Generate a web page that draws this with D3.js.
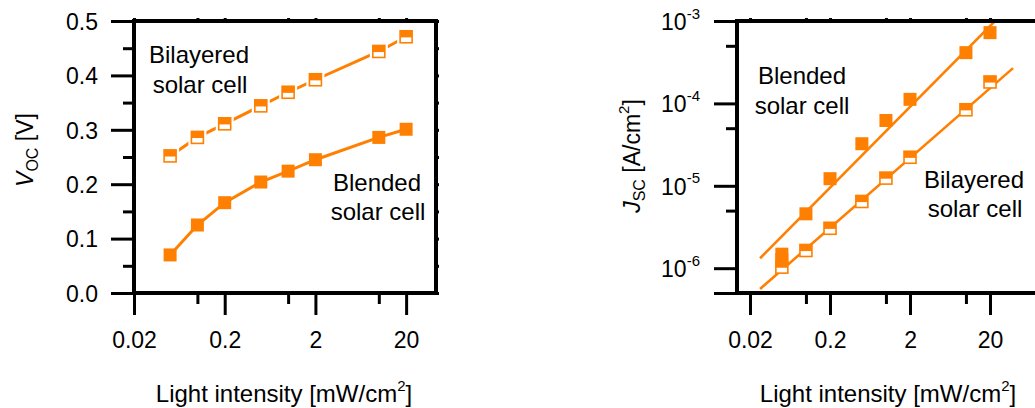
<!DOCTYPE html>
<html lang="en">
<head>
<meta charset="UTF-8">
<title>Voc and Jsc vs light intensity</title>
<style>
    body { margin: 0; background: #fff; }
    svg { display: block; font-family: "Liberation Sans", Arial, sans-serif; }
    .tick text { font-size: 23px; fill: #000; }
    .note { font-size: 24px; fill: #000; }
</style>
</head>
<body>
<svg width="1035" height="408"></svg>
<script src="https://d3js.org/d3.v7.min.js"></script>
<script>
    // data
    const intensity = [0.05, 0.1, 0.2, 0.5, 1, 2, 10, 20];
    const vocBilayered = [0.252, 0.286, 0.311, 0.344, 0.369, 0.392, 0.444, 0.471];
    const vocBlended = [0.070, 0.125, 0.166, 0.204, 0.224, 0.245, 0.286, 0.301];

    const intensityBlendedJsc = [0.05, 0.05, 0.1, 0.2, 0.5, 1, 2, 10, 20];
    const jscBlended = [1.48e-6, 1.27e-6, 4.57e-6, 1.22e-5, 3.24e-5, 6.2e-5, 1.12e-4, 4.13e-4, 7.22e-4];
    const jscBilayered = [1.03e-6, 1.64e-6, 3.05e-6, 6.45e-6, 1.24e-5, 2.22e-5, 8.37e-5, 1.82e-4];

    // power-law fit lines (end points)
    const fitIntensityBlended = [0.0267, 25];
    const fitJscBlended = [1.32e-6, 1.08e-3];
    const fitIntensityBilayered = [0.0267, 38.8];
    const fitJscBilayered = [5.6e-7, 2.68e-4];

    const xMajor = [0.02, 0.2, 2, 20];
    const xMinor = [0.1, 1, 10];
    const xLabels = ["0.02", "0.2", "2", "20"];
    const vocMajor = [0, 0.1, 0.2, 0.3, 0.4, 0.5];
    const vocMinor = [0.05, 0.15, 0.25, 0.35, 0.45];
    const vocLabels = ["0.0", "0.1", "0.2", "0.3", "0.4", "0.5"];
    const jscMajor = [5e-7, 1e-6, 1e-5, 1e-4, 1e-3];
    const jscMinor = [5e-6, 5e-5, 5e-4];
    const jscExponents = ["", "-6", "-5", "-4", "-3"];

    const orange = "#ff8000";
    const svg = d3.select("svg");
    const plotH = 272;

    function frame(g, w) {
        g.append("rect")
            .attr("width", w).attr("height", plotH)
            .attr("fill", "none").attr("stroke", "#000").attr("stroke-width", 4);
    }

    function styleAxis(a) {
        a.select(".domain").remove();
        a.selectAll("line").attr("stroke", "#000").attr("stroke-width", 3);
    }

    function xAxes(g, x, w) {
        const all = xMajor.concat(xMinor);
        g.append("g").attr("transform", `translate(0,${plotH})`)
            .call(d3.axisBottom(x).tickValues(xMajor).tickSize(22)
                .tickFormat((d, i) => xLabels[i]))
            .call(styleAxis)
            .call(a => a.selectAll("text").attr("y", 55).attr("dy", null));
        g.append("g").attr("transform", `translate(0,${plotH})`)
            .call(d3.axisBottom(x).tickValues(xMinor).tickSize(11).tickFormat(""))
            .call(styleAxis);
        g.append("g")
            .call(d3.axisTop(x).tickValues(all).tickSize(3).tickFormat(""))
            .call(styleAxis);
    }

    function halfSquare(sel, x, y, halo) {
        const s = 12;
        if (halo) {
            sel.append("rect").attr("x", x - s / 2 - 3).attr("y", y - s / 2 - 3)
                .attr("width", s + 6).attr("height", s + 6).attr("fill", "#fff");
        }
        sel.append("rect").attr("x", x - s / 2).attr("y", y - s / 2)
            .attr("width", s).attr("height", s)
            .attr("fill", "#fff").attr("stroke", orange).attr("stroke-width", 1.6);
        sel.append("rect").attr("x", x - s / 2).attr("y", y - s / 2)
            .attr("width", s).attr("height", s * 0.55)
            .attr("fill", orange);
    }

    function fullSquare(sel, x, y) {
        const s = 13;
        sel.append("rect").attr("x", x - s / 2).attr("y", y - s / 2)
            .attr("width", s).attr("height", s).attr("fill", orange);
    }

    // ---------- left panel: Voc ----------
    const wL = 302;
    const gL = svg.append("g").attr("transform", "translate(134,21)");
    const xL = d3.scaleLog().domain([0.02, 42.7]).range([0, wL]);
    const yL = d3.scaleLinear().domain([0, 0.5]).range([plotH, 0]);

    gL.append("g")
        .call(d3.axisLeft(yL).tickValues(vocMajor).tickSize(23)
            .tickFormat((d, i) => vocLabels[i]))
        .call(styleAxis)
        .call(a => a.selectAll("text").attr("x", -36).attr("dy", "0.36em"));
    gL.append("g")
        .call(d3.axisLeft(yL).tickValues(vocMinor).tickSize(11).tickFormat(""))
        .call(styleAxis);
    gL.append("g").attr("transform", `translate(${wL},0)`)
        .call(d3.axisRight(yL).tickValues(vocMajor.concat(vocMinor)).tickSize(3).tickFormat(""))
        .call(styleAxis);
    xAxes(gL, xL, wL);

    const lineL = d3.line().x(d => xL(d[0])).y(d => yL(d[1]));
    gL.append("path").datum(d3.zip(intensity, vocBilayered))
        .attr("d", lineL).attr("fill", "none").attr("stroke", orange).attr("stroke-width", 3);
    gL.append("path").datum(d3.zip(intensity, vocBlended))
        .attr("d", lineL).attr("fill", "none").attr("stroke", orange).attr("stroke-width", 3);

    const mL = gL.append("g");
    intensity.forEach((v, i) => halfSquare(mL, xL(v), yL(vocBilayered[i]), true));
    intensity.forEach((v, i) => fullSquare(mL, xL(v), yL(vocBlended[i])));
    frame(gL, wL);

    gL.append("text").attr("class", "note").attr("text-anchor", "middle")
        .attr("x", 65).attr("y", 42).text("Bilayered");
    gL.append("text").attr("class", "note").attr("text-anchor", "middle")
        .attr("x", 66).attr("y", 72).text("solar cell");
    gL.append("text").attr("class", "note").attr("text-anchor", "middle")
        .attr("x", 243).attr("y", 170).text("Blended");
    gL.append("text").attr("class", "note").attr("text-anchor", "middle")
        .attr("x", 244).attr("y", 199).text("solar cell");

    // y title
    const tL = svg.append("text").attr("transform", "translate(33,150) rotate(-90)")
        .attr("text-anchor", "middle").attr("font-size", 23);
    tL.append("tspan").attr("font-style", "italic").text("V");
    tL.append("tspan").attr("font-size", 16).attr("dy", 5).text("OC");
    tL.append("tspan").attr("dy", -5).text(" [V]");

    // x title
    const xtL = svg.append("text").attr("x", 284).attr("y", 402)
        .attr("text-anchor", "middle").attr("font-size", 24);
    xtL.append("tspan").text("Light intensity [mW/cm");
    xtL.append("tspan").attr("font-size", 15).attr("dy", -11).text("2");
    xtL.append("tspan").attr("dy", 11).text("]");

    // ---------- right panel: Jsc ----------
    const wR = 300;
    const gR = svg.append("g").attr("transform", "translate(737,21)");
    const xR = d3.scaleLog().domain([0.01375, 77.3]).range([0, wR]);
    const yR = d3.scaleLog().domain([5e-7, 1e-3]).range([plotH, 0]);

    gR.append("g")
        .call(d3.axisLeft(yR).tickValues(jscMajor).tickSize(23).tickFormat(""))
        .call(styleAxis)
        .call(a => a.selectAll(".tick").each(function(d, i) {
            if (!jscExponents[i]) return;
            const t = d3.select(this).append("text")
                .attr("x", -37).attr("dy", "0.36em").attr("text-anchor", "end");
            t.append("tspan").text("10");
            t.append("tspan").attr("font-size", 15).attr("dy", "-0.75em").text(jscExponents[i]);
        }));
    gR.append("g")
        .call(d3.axisLeft(yR).tickValues(jscMinor).tickSize(11).tickFormat(""))
        .call(styleAxis);
    xAxes(gR, xR, wR);

    gR.append("clipPath").attr("id", "clipR")
        .append("rect").attr("width", wR).attr("height", plotH);
    const lineR = d3.line().x(d => xR(d[0])).y(d => yR(d[1]));
    const fits = gR.append("g").attr("clip-path", "url(#clipR)");
    fits.append("path").datum(d3.zip(fitIntensityBlended, fitJscBlended))
        .attr("d", lineR).attr("fill", "none").attr("stroke", orange).attr("stroke-width", 2.6);
    fits.append("path").datum(d3.zip(fitIntensityBilayered, fitJscBilayered))
        .attr("d", lineR).attr("fill", "none").attr("stroke", orange).attr("stroke-width", 2.6);

    const mR = gR.append("g");
    intensityBlendedJsc.forEach((v, i) => fullSquare(mR, xR(v), yR(jscBlended[i])));
    intensity.forEach((v, i) => halfSquare(mR, xR(v), yR(jscBilayered[i]), false));
    frame(gR, wR);

    gR.append("text").attr("class", "note").attr("text-anchor", "middle")
        .attr("x", 65).attr("y", 63).text("Blended");
    gR.append("text").attr("class", "note").attr("text-anchor", "middle")
        .attr("x", 65).attr("y", 93).text("solar cell");
    gR.append("text").attr("class", "note").attr("text-anchor", "middle")
        .attr("x", 237).attr("y", 167).text("Bilayered");
    gR.append("text").attr("class", "note").attr("text-anchor", "middle")
        .attr("x", 238).attr("y", 196).text("solar cell");

    const tR = svg.append("text").attr("transform", "translate(640,156) rotate(-90)")
        .attr("text-anchor", "middle").attr("font-size", 23);
    tR.append("tspan").attr("font-style", "italic").text("J");
    tR.append("tspan").attr("font-size", 16).attr("dy", 5).text("SC");
    tR.append("tspan").attr("dy", -5).text(" [A/cm");
    tR.append("tspan").attr("font-size", 15).attr("dy", -11).text("2");
    tR.append("tspan").attr("dy", 11).text("]");

    const xtR = svg.append("text").attr("x", 888).attr("y", 402)
        .attr("text-anchor", "middle").attr("font-size", 24);
    xtR.append("tspan").text("Light intensity [mW/cm");
    xtR.append("tspan").attr("font-size", 15).attr("dy", -11).text("2");
    xtR.append("tspan").attr("dy", 11).text("]");
</script>
</body>
</html>
